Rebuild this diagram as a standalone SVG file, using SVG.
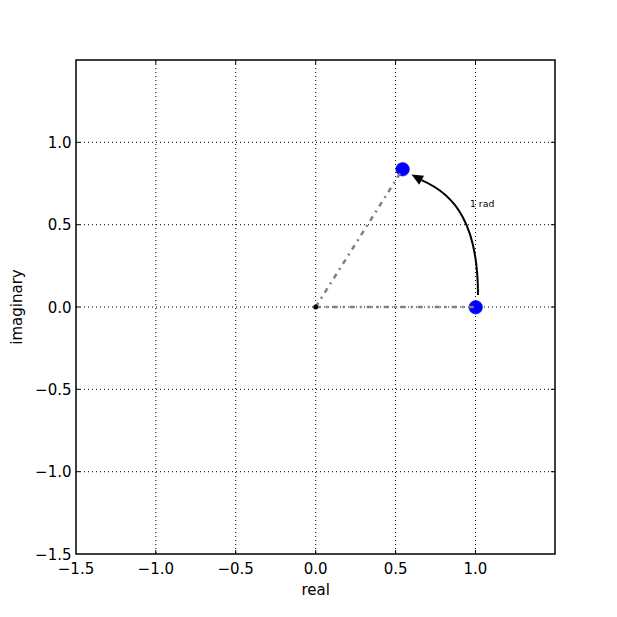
<svg xmlns="http://www.w3.org/2000/svg" width="617" height="617" viewBox="0 0 617 617">
<style>
  .grid { stroke: #000; stroke-width: 1; stroke-dasharray: 1 3; fill: none; }
  .tick { stroke: #000; stroke-width: 1; }
  .frame { fill: none; stroke: #000; stroke-width: 1.5; }
  .lbl { font-family: "DejaVu Sans", sans-serif; font-size: 15px; fill: #000; }
  .xl { text-anchor: middle; }
  .yl { text-anchor: end; }
  .dd { fill: none; stroke: #808080; stroke-width: 2.5; stroke-dasharray: 5 5 2 5; }
  .pt { fill: #0000ff; stroke: #0000cc; stroke-width: 0.5; }
</style>
<rect x="0" y="0" width="617" height="617" fill="#fff"/>
<rect x="76" y="60" width="479" height="494" fill="#fff"/>
<g id="grid">
  <line class="grid" x1="155.8" y1="60" x2="155.8" y2="554"/>
  <line class="grid" x1="235.7" y1="60" x2="235.7" y2="554"/>
  <line class="grid" x1="315.7" y1="60" x2="315.7" y2="554"/>
  <line class="grid" x1="395.6" y1="60" x2="395.6" y2="554"/>
  <line class="grid" x1="475.5" y1="60" x2="475.5" y2="554"/>
  <line class="grid" x1="76" y1="142.3" x2="555" y2="142.3"/>
  <line class="grid" x1="76" y1="224.7" x2="555" y2="224.7"/>
  <line class="grid" x1="76" y1="307" x2="555" y2="307"/>
  <line class="grid" x1="76" y1="389.3" x2="555" y2="389.3"/>
  <line class="grid" x1="76" y1="471.7" x2="555" y2="471.7"/>
</g>
<g id="ticks">
  <path class="tick" d="M155.8 554v-4M235.7 554v-4M315.7 554v-4M395.6 554v-4M475.5 554v-4M155.8 60v4M235.7 60v4M315.7 60v4M395.6 60v4M475.5 60v4M76 142.3h4M76 224.7h4M76 307h4M76 389.3h4M76 471.7h4M555 142.3h-4M555 224.7h-4M555 307h-4M555 389.3h-4M555 471.7h-4"/>
</g>
<g id="node-point-1">
  <circle class="pt" cx="475.7" cy="307.3" r="6.8"/>
</g>
<g id="node-point-2">
  <circle class="pt" cx="402.6" cy="169.3" r="6.8"/>
</g>
<g id="connectors">
  <line class="dd" x1="315.7" y1="307" x2="475.7" y2="307" stroke="#666" stroke-width="2"/>
  <line class="dd" x1="315.7" y1="307" x2="402.6" y2="169.3"/>
  <path d="M478 295 C478 225 456 195 421.5 180.2" fill="none" stroke="#000" stroke-width="2"/>
  <polygon points="411.5,174.6 424,175.8 419.2,184.8" fill="#000"/>
</g>
<g id="node-origin">
  <circle cx="315.7" cy="307" r="2.5" fill="#000"/>
</g>
<g id="node-label">
  <text x="470" y="207" font-family="DejaVu Sans, sans-serif" font-size="9.3" fill="#000">1 rad</text>
</g>
<rect class="frame" x="76" y="60" width="479" height="494"/>
<g id="xticklabels" class="lbl xl">
  <text x="76" y="573.5">−1.5</text>
  <text x="155.8" y="573.5">−1.0</text>
  <text x="235.7" y="573.5">−0.5</text>
  <text x="315.7" y="573.5">0.0</text>
  <text x="395.6" y="573.5">0.5</text>
  <text x="475.5" y="573.5">1.0</text>
</g>
<g id="yticklabels" class="lbl yl">
  <text x="71.5" y="147.8">1.0</text>
  <text x="71.5" y="230.2">0.5</text>
  <text x="71.5" y="312.5">0.0</text>
  <text x="71.5" y="394.8">−0.5</text>
  <text x="71.5" y="477.2">−1.0</text>
  <text x="71.5" y="559.5">−1.5</text>
</g>
<text class="lbl xl" x="315.7" y="595">real</text>
<text class="lbl xl" transform="translate(21.5 307) rotate(-90)">imaginary</text>
</svg>
